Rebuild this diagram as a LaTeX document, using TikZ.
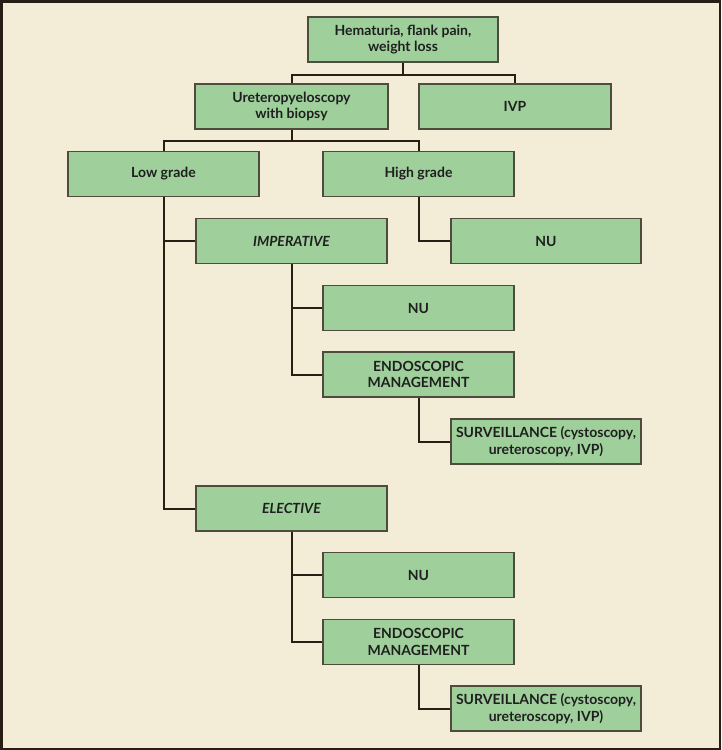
\documentclass[tikz,border=0pt]{standalone}
\usepackage{fontspec}
\setmainfont{Lato}
\definecolor{bgc}{RGB}{243,236,214}
\definecolor{boxc}{RGB}{159,208,155}
\definecolor{boxb}{RGB}{78,76,60}
\definecolor{linec}{RGB}{40,30,20}
\tikzset{
  box/.style={draw=boxb, fill=boxc, line width=1.2pt, align=center, inner sep=2pt,
    font=\fontsize{14}{16.5}\selectfont\bfseries, text=black!88, minimum height=45pt},
  conn/.style={draw=linec, line width=2pt}
}
\begin{document}
\begin{tikzpicture}[x=1pt,y=-1pt]
\useasboundingbox (0,0) rectangle (721,750);
\fill[bgc] (0,0) rectangle (721,750);
\draw[linec, line width=2.5pt] (1.25,1.25) rectangle (719.75,748.75);

\node[box, minimum width=190pt] (top) at (403,39.5) {Hematuria, flank pain,\\weight loss};
\node[box, minimum width=193pt] (ure) at (291.5,106.5) {Ureteropyeloscopy\\with biopsy};
\node[box, minimum width=192pt] (ivp) at (515,106.5) {IVP};
\node[box, minimum width=191pt] (low) at (163.5,174) {Low grade};
\node[box, minimum width=191pt] (high) at (418.5,174) {High grade};
\node[box, minimum width=191pt] (imp) at (291.5,241) {\itshape IMPERATIVE};
\node[box, minimum width=190pt] (nuh) at (546,241) {NU};
\node[box, minimum width=191pt] (nua) at (418.5,308) {NU};
\node[box, minimum width=191pt] (endoa) at (418.5,374.5) {ENDOSCOPIC\\MANAGEMENT};
\node[box, minimum width=190pt] (surva) at (546,441.5) {SURVEILLANCE (cystoscopy,\\ureteroscopy, IVP)};
\node[box, minimum width=191pt] (ele) at (291.5,508.5) {\itshape ELECTIVE};
\node[box, minimum width=191pt] (nub) at (418.5,575) {NU};
\node[box, minimum width=191pt] (endob) at (418.5,642) {ENDOSCOPIC\\MANAGEMENT};
\node[box, minimum width=190pt] (survb) at (546,708.5) {SURVEILLANCE (cystoscopy,\\ureteroscopy, IVP)};

\draw[conn] (top.south) -- ++(0,12) -| (ure.north);
\draw[conn] (top.south) -- ++(0,12) -| (ivp.north);
\draw[conn] (ure.south) -- ++(0,11) -| (low.north);
\draw[conn] (ure.south) -- ++(0,11) -| (high.north);
\draw[conn] (high.south) |- (nuh.west);
\draw[conn] (low.south) |- (imp.west);
\draw[conn] (low.south) |- (ele.west);
\draw[conn] (imp.south) |- (nua.west);
\draw[conn] (imp.south) |- (endoa.west);
\draw[conn] (endoa.south) |- (surva.west);
\draw[conn] (ele.south) |- (nub.west);
\draw[conn] (ele.south) |- (endob.west);
\draw[conn] (endob.south) |- (survb.west);
\end{tikzpicture}
\end{document}
